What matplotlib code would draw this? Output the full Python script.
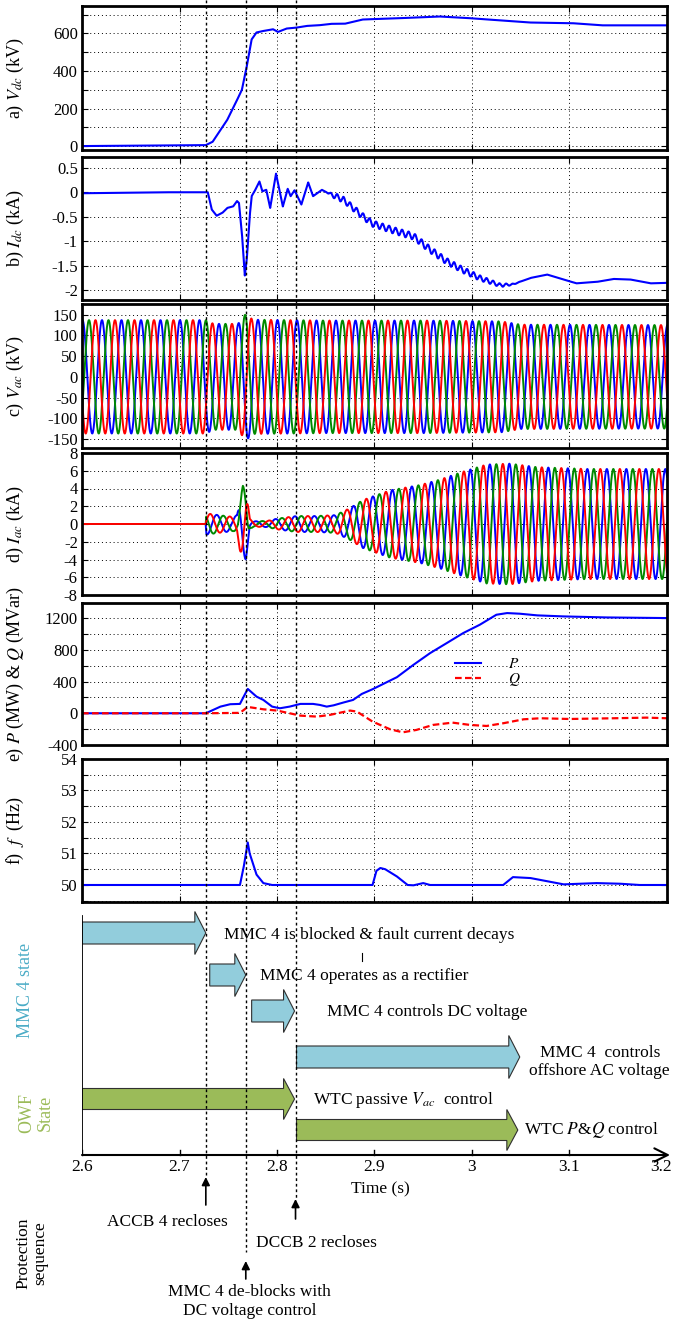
import numpy as np
import matplotlib.pyplot as plt
from matplotlib.lines import Line2D
from matplotlib.patches import FancyArrow
from matplotlib.ticker import MultipleLocator, FuncFormatter
from matplotlib.transforms import blended_transform_factory

plt.rcParams['font.family'] = ['Liberation Serif', 'DejaVu Serif']
plt.rcParams['mathtext.fontset'] = 'stix'
plt.rcParams['axes.unicode_minus'] = False

# ---- data ----
t_vdc = [2.6, 2.68, 2.727, 2.734, 2.749, 2.760, 2.764, 2.769, 2.774, 2.779, 2.786, 2.796,
         2.801, 2.810, 2.820, 2.831, 2.844, 2.856, 2.870, 2.888, 2.898, 2.930, 2.967, 2.998,
         3.022, 3.060, 3.104, 3.134, 3.2]
v_dc = [0, 3, 5, 23, 140, 256, 300, 425, 568, 605, 613, 622,
        608, 626, 631, 640, 644, 651, 652, 674, 676, 682, 690, 681,
        672, 658, 654, 643, 643]

t_idc = [2.6, 2.68, 2.727, 2.729, 2.733, 2.738, 2.744, 2.749, 2.755, 2.759, 2.761, 2.764,
         2.767, 2.769, 2.772, 2.774, 2.777, 2.782, 2.785, 2.789, 2.793, 2.799, 2.803, 2.806,
         2.811, 2.814, 2.818, 2.825, 2.832, 2.837, 2.846, 2.856, 2.868, 2.888, 2.898, 2.923,
         2.940, 2.957, 2.974, 2.991, 3.008, 3.029, 3.042, 3.060, 3.077, 3.094, 3.107, 3.128,
         3.145, 3.162, 3.183, 3.2]
i_dc = [-0.02, 0.0, 0.0, 0.0, -0.35, -0.48, -0.42, -0.32, -0.29, -0.18, -0.22, -0.83,
        -1.70, -1.37, -0.49, -0.08, 0.02, 0.22, 0.02, 0.05, -0.32, 0.38, -0.01, -0.29,
        0.07, -0.08, 0.04, -0.25, 0.20, -0.08, 0.05, -0.05, -0.15, -0.49, -0.64, -0.80,
        -0.90, -1.17, -1.41, -1.59, -1.75, -1.90, -1.88, -1.75, -1.68, -1.78, -1.86, -1.83,
        -1.77, -1.78, -1.86, -1.85]
t_idc_ripple = [2.6, 2.85, 2.86, 2.95, 3.0, 3.03, 3.05, 3.2]
idc_ripple = [0, 0, 0.06, 0.07, 0.06, 0.035, 0.0, 0.0]

t_vac = [2.6, 2.727, 2.735, 2.76, 2.766, 2.769, 2.775, 2.85, 2.95, 3.03, 3.05, 3.2]
vac_peak = [137, 137, 128, 128, 148, 152, 138, 136, 136, 134, 126, 125]

t_iac = [2.6, 2.7268, 2.7275, 2.74, 2.755, 2.759, 2.762, 2.765, 2.768, 2.770, 2.772, 2.776,
         2.79, 2.80, 2.82, 2.84, 2.86, 2.875, 2.888, 2.916, 2.947, 2.967, 2.991, 3.015,
         3.039, 3.067, 3.118, 3.2]
iac_peak = [0, 0, 1.2, 1.0, 0.8, 1.0, 3.0, 4.3, 4.0, 2.5, 0.6, 0.3,
            0.35, 0.6, 0.9, 0.9, 1.0, 1.8, 2.7, 3.8, 4.4, 5.0, 5.9, 6.7,
            6.8, 6.4, 6.2, 6.2]

t_p = [2.6, 2.727, 2.742, 2.752, 2.762, 2.765, 2.770, 2.779, 2.786, 2.795, 2.803, 2.813,
       2.824, 2.837, 2.844, 2.851, 2.858, 2.868, 2.878, 2.887, 2.898, 2.923, 2.940, 2.957,
       2.974, 2.991, 3.008, 3.025, 3.036, 3.049, 3.067, 3.094, 3.138, 3.2]
p_mw = [0, 0, 84, 114, 118, 190, 307, 210, 168, 84, 63, 84,
        118, 118, 105, 84, 100, 135, 168, 244, 303, 455, 611, 758,
        884, 1011, 1116, 1242, 1263, 1255, 1234, 1221, 1208, 1200]

t_q = [2.6, 2.727, 2.762, 2.770, 2.786, 2.800, 2.813, 2.824, 2.841, 2.854, 2.865, 2.875,
       2.882, 2.898, 2.916, 2.929, 2.943, 2.960, 2.980, 2.998, 3.015, 3.032, 3.053, 3.070,
       3.100, 3.145, 3.179, 3.2]
q_mvar = [0, 0, 5, 80, 50, 34, 0, -30, -42, -21, 8, 34,
          21, -105, -202, -240, -210, -147, -118, -147, -160, -126, -76, -63,
          -72, -63, -55, -63]

t_f = [2.6, 2.762, 2.766, 2.770, 2.772, 2.779, 2.786, 2.795, 2.898, 2.902, 2.906, 2.911,
       2.923, 2.934, 2.940, 2.950, 2.957, 3.032, 3.042, 3.060, 3.077, 3.094, 3.128, 3.152,
       3.172, 3.2]
f_hz = [50.0, 50.0, 50.6, 51.35, 51.0, 50.33, 50.06, 50.0, 50.0, 50.45, 50.54, 50.5,
        50.27, 50.0, 49.99, 50.06, 50.0, 50.0, 50.25, 50.22, 50.12, 50.02, 50.06, 50.04,
        50.0, 50.0]

f_grid = 50.0          # AC carrier frequency
vac_phase0 = 2.6005    # blue phase peak time
iac_phase0 = 2.6183
ripple_hz = 150.0

events = [2.727, 2.768, 2.819]

mmc_start = [2.6, 2.731, 2.774, 2.820]
mmc_end = [2.727, 2.768, 2.818, 3.049]
mmc_labels = ['MMC 4 is blocked & fault current decays', 'MMC 4 operates as a rectifier',
              'MMC 4 controls DC voltage', 'MMC 4  controls\noffshore AC voltage']
owf_start = [2.6, 2.820]
owf_end = [2.818, 3.047]
owf_labels = ['WTC passive $V_{ac}$  control', 'WTC $P$&$Q$ control']

prot_labels = ['ACCB 4 recloses', 'MMC 4 de-blocks with\nDC voltage control', 'DCCB 2 recloses']
time_ticks = [2.6, 2.7, 2.8, 2.9, 3.0, 3.1, 3.2]

# ---- figure layout in pixels ----
W, H = 674, 1320
L, R = 82, 667
fig = plt.figure(figsize=(W / 100, H / 100), dpi=100)


def px_axes(top, bottom):
    return fig.add_axes([L / W, 1 - bottom / H, (R - L) / W, (bottom - top) / H])


panels = [(6, 150), (157, 300), (304, 448), (453, 595), (603, 745), (759, 902)]
axes = [px_axes(a, b) for a, b in panels]
ax_a, ax_b, ax_c, ax_d, ax_e, ax_f = axes

tt = np.linspace(2.6, 3.2, 12001)
BLUE, GREEN, RED = '#0000ff', '#008a00', '#ff0000'


def three_phase(t_env, amp_env, p0):
    amp = np.interp(tt, t_env, amp_env)
    th = 2 * np.pi * f_grid * (tt - p0)
    return [amp * np.cos(th - k * 2 * np.pi / 3) for k in range(3)]


# a) Vdc
ax_a.plot(t_vdc, v_dc, color=BLUE, lw=1.5)
# b) Idc
idc_line = np.interp(tt, t_idc, i_dc) + np.interp(tt, t_idc_ripple, idc_ripple) * np.sin(2 * np.pi * ripple_hz * tt)
ax_b.plot(tt, idc_line, color=BLUE, lw=1.5)
# c) Vac
for y, c in zip(three_phase(t_vac, vac_peak, vac_phase0), [BLUE, GREEN, RED]):
    ax_c.plot(tt, y, color=c, lw=1.4)
# d) Iac
for y, c in zip(three_phase(t_iac, iac_peak, iac_phase0), [BLUE, GREEN, RED]):
    ax_d.plot(tt, y, color=c, lw=1.4)
# e) P & Q
ax_e.plot(t_p, p_mw, color=BLUE, lw=1.5, label='$P$')
ax_e.plot(t_q, q_mvar, color=RED, lw=1.6, ls=(0, (3, 1.5)), label='$Q$')
leg = ax_e.legend(loc='center', bbox_to_anchor=(0.694, 0.51), frameon=False, fontsize=11,
                  handlelength=1.7, handletextpad=1.8, labelspacing=0.0)
# f) frequency
ax_f.plot(t_f, f_hz, color=BLUE, lw=1.5)

ylims = [(-21, 746), (-2.2, 0.72), (-172, 176), (-8, 8), (-400, 1390), (49.46, 54.0)]
major = [200, 0.5, 50, 2, 400, 1]
minor = [100, 0.5, 50, 2, 200, 0.5]
ylabels = ['a) $V_{dc}$ (kV)', 'b) $I_{dc}$ (kA)', 'c) $V_{ac}$ (kV)', 'd) $I_{ac}$ (kA)',
           'e) $P$ (MW) & $Q$ (MVar)', 'f)  $f$  (Hz)']
fmt = FuncFormatter(lambda v, pos: f'{v:g}')
for ax, yl, mj, mn, lab in zip(axes, ylims, major, minor, ylabels):
    ax.set_xlim(2.6, 3.2)
    ax.set_ylim(*yl)
    ax.xaxis.set_major_locator(MultipleLocator(0.1))
    ax.yaxis.set_major_locator(MultipleLocator(mj))
    ax.yaxis.set_minor_locator(MultipleLocator(mn))
    ax.yaxis.set_major_formatter(fmt)
    ax.tick_params(which='both', direction='in', top=True, right=True, labelbottom=False,
                   length=4, width=0.8, labelsize=12, pad=3)
    ax.grid(True, which='both', axis='y', ls=(0, (1, 3)), color='k', lw=0.7)
    ax.grid(True, which='major', axis='x', ls=(0, (1, 3)), color='k', lw=0.7)
    for s in ax.spines.values():
        s.set_linewidth(2)
    ax.set_ylabel(lab, fontsize=13)
    ax.yaxis.set_label_coords((26 - L) / (R - L), 0.5)

# event lines through the whole figure
trans = blended_transform_factory(ax_a.transData, fig.transFigure)
event_end = [1177, 1252, 1198]
for t, ye in zip(events, event_end):
    fig.add_artist(Line2D([t, t], [1, 1 - ye / H], transform=trans, color='k', lw=1.0,
                          ls=(0, (2, 2)), zorder=5))

# ---- state / sequence diagram ----
ax_s = fig.add_axes([L / W, 0, (R - L) / W, (H - 905) / H])
ax_s.set_xlim(2.6, 3.2)
ax_s.set_ylim(H, 905)
ax_s.axis('off')

px_t = 0.1 / 97.5  # time per pixel
BLUE_FILL, GREEN_FILL = '#92cddc', '#9bbb59'
mmc_rows = [933, 975, 1011, 1057]
owf_rows = [1099, 1130]
for s, e, yc in zip(mmc_start, mmc_end, mmc_rows):
    ax_s.add_patch(FancyArrow(s, yc, e - s, 0, width=22, head_width=43, head_length=11 * px_t,
                              length_includes_head=True, fc=BLUE_FILL, ec='#303030', lw=0.8))
for s, e, yc in zip(owf_start, owf_end, owf_rows):
    ax_s.add_patch(FancyArrow(s, yc, e - s, 0, width=21, head_width=41, head_length=11 * px_t,
                              length_includes_head=True, fc=GREEN_FILL, ec='#303030', lw=0.8))

fs = 12.5
ax_s.text(2.7456, 935, mmc_labels[0], fontsize=fs, va='center')
ax_s.text(2.7826, 976, mmc_labels[1], fontsize=fs, va='center')
ax_s.text(2.8513, 1012, mmc_labels[2], fontsize=fs, va='center')
ax_s.text(3.131, 1062, mmc_labels[3], fontsize=fs, va='center', ha='center', linespacing=1.15)
ax_s.text(2.837, 1100, owf_labels[0], fontsize=fs, va='center')
ax_s.text(3.053, 1130, owf_labels[1], fontsize=fs, va='center')
ax_s.plot([2.887, 2.887], [953, 961], color='k', lw=0.8)

ax_s.text(2.6 - 56 * px_t, 990, 'MMC 4 state', rotation=90, fontsize=13, color='#4bacc6',
          ha='center', va='center', clip_on=False)
ax_s.text(2.6 - 46 * px_t, 1113, 'OWF\nState', rotation=90, fontsize=13, color='#9bbb59',
          ha='center', va='center', linespacing=1.1, clip_on=False)
ax_s.text(2.6 - 50 * px_t, 1253, 'Protection\nsequence', rotation=90, fontsize=12.5,
          ha='center', va='center', linespacing=1.1, clip_on=False)

# time axis
ax_s.plot([2.6, 2.6], [916, 1155], color='k', lw=1.3)
ax_s.annotate('', xy=(3.2 + 3 * px_t, 1155), xytext=(2.6, 1155), annotation_clip=False,
              arrowprops=dict(arrowstyle='->', lw=1.5, color='k', mutation_scale=24,
                              shrinkA=0, shrinkB=0))
for t in time_ticks:
    if t < 3.2:
        ax_s.plot([t, t], [1150, 1155], color='k', lw=1.0)
        ax_s.text(t, 1167, f'{t:g}', ha='center', va='center', fontsize=12.5, clip_on=False)
    else:
        ax_s.text(t - 6 * px_t, 1167, f'{t:g}', ha='center', va='center', fontsize=12.5,
                  clip_on=False)
ax_s.text(2.906, 1189, 'Time (s)', ha='center', va='center', fontsize=12.5)

# protection sequence arrows
arrow_kw = dict(arrowstyle='-|>', color='k', lw=1.2, mutation_scale=12, shrinkA=0, shrinkB=0)
ax_s.annotate('', xy=(events[0], 1177), xytext=(events[0], 1205), arrowprops=arrow_kw)
ax_s.annotate('', xy=(events[1], 1261), xytext=(events[1], 1279), arrowprops=arrow_kw)
ax_s.annotate('', xy=(events[2], 1199), xytext=(events[2], 1219), arrowprops=arrow_kw)
ax_s.text(2.688, 1222, prot_labels[0], ha='center', va='center', fontsize=fs)
ax_s.text(2.772, 1302, prot_labels[1], ha='center', va='center', fontsize=fs, linespacing=1.25)
ax_s.text(2.840, 1243, prot_labels[2], ha='center', va='center', fontsize=fs)

fig.savefig('out.png', dpi=100)
